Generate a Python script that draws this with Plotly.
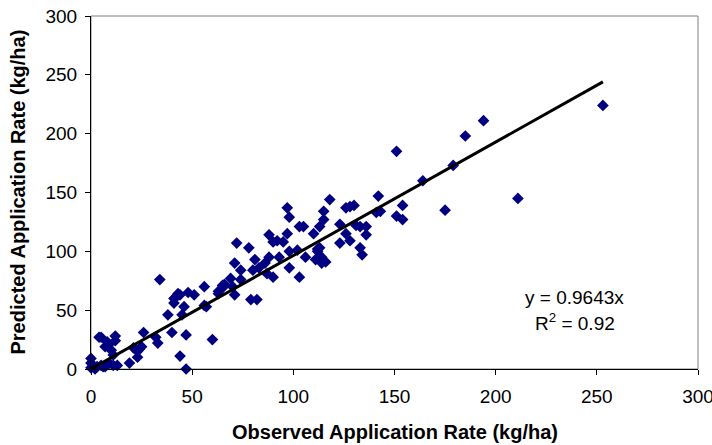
import plotly.graph_objects as go

observed = [0, 0, 1, 2, 0, 3, 6, 7, 9, 11, 13, 5, 4, 5, 8, 7, 9, 10, 11, 12, 12,
            19, 21, 23, 25, 24, 23, 26, 32, 33, 34, 38, 40, 41, 42, 43, 44, 41, 46, 45,
            47, 48, 51, 44, 47, 56, 57, 56, 60, 63, 63, 65, 66, 65, 69, 71, 70, 71, 72,
            74, 74, 78, 79, 82, 81, 80, 83, 87, 86, 88, 88, 90, 92, 90, 93, 95, 97, 97,
            98, 98, 98, 102, 103, 105, 103, 106, 110, 112, 112, 111, 113, 116, 113, 115,
            115, 114, 114, 113, 118, 123, 123, 126, 126, 128, 128, 130, 131, 133, 133, 134,
            136, 136, 141, 142, 143, 151, 151, 154, 154, 164, 175, 179, 185, 194, 211, 253]
predicted = [9, 5, 3, 0, 1, 2, 2, 2, 5, 3, 3, 3, 27, 27, 23, 19, 21, 16, 12, 28, 24,
             5, 18, 15, 19, 17, 10, 31, 27, 22, 76, 46, 31, 60, 61, 64, 63, 56, 53, 46,
             29, 65, 63, 11, 0, 70, 53, 54, 25, 64, 66, 71, 72, 69, 77, 63, 70, 90, 107,
             84, 76, 103, 59, 59, 93, 84, 86, 81, 90, 114, 95, 108, 109, 78, 95, 108, 115, 137,
             129, 100, 86, 101, 121, 121, 78, 95, 115, 102, 100, 93, 93, 91, 121, 134,
             127, 90, 95, 103, 144, 123, 107, 115, 137, 109, 138, 139, 122, 121, 103, 97,
             121, 114, 133, 147, 134, 130, 185, 139, 127, 160, 135, 173, 198, 211, 145, 224]

slope = 0.9643
r_squared = 0.92
trend_x = [0, max(observed)]
trend_y = [slope * v for v in trend_x]

x_ticks = [0, 50, 100, 150, 200, 250, 300]
y_ticks = [0, 50, 100, 150, 200, 250, 300]

FONT = "Liberation Sans, Arial, sans-serif"
FS = 19
FT = 20

fig = go.Figure()
fig.add_trace(go.Scatter(
    x=observed, y=predicted, mode="markers",
    marker=dict(symbol="diamond", size=9, color="#000080", line=dict(width=0)),
    showlegend=False, cliponaxis=False,
))
fig.add_trace(go.Scatter(
    x=trend_x, y=trend_y, mode="lines",
    line=dict(color="black", width=3), showlegend=False,
))

fig.update_layout(
    width=712, height=445,
    margin=dict(l=91, r=14, t=16, b=76),
    paper_bgcolor="white", plot_bgcolor="white",
    font=dict(family=FONT, size=FS, color="black"),
    xaxis=dict(range=[0, 300], tickvals=x_ticks, ticks="outside", ticklen=5,
               tickcolor="black", showline=True, linecolor="black", linewidth=1,
               showgrid=False, zeroline=False, ticklabelstandoff=5, automargin=False,
               ticklabeloverflow="allow", tickfont=dict(size=FS)),
    yaxis=dict(range=[0, 300], tickvals=y_ticks, ticks="outside", ticklen=5,
               tickcolor="black", showline=True, linecolor="black", linewidth=1,
               showgrid=False, zeroline=False, ticklabelstandoff=4, automargin=False,
               ticklabeloverflow="allow", tickfont=dict(size=FS)),
    shapes=[dict(type="rect", xref="paper", yref="paper", x0=0, y0=0, x1=1, y1=1,
                 line=dict(color="#808080", width=1), layer="below")],
    annotations=[
        dict(text="<b>Observed Application Rate (kg/ha)</b>", xref="paper", yref="paper",
             x=0.5, y=0, yanchor="middle", yshift=-63, showarrow=False,
             font=dict(size=FT)),
        dict(text="<b>Predicted Application Rate (kg/ha)</b>", xref="paper", yref="paper",
             x=0, y=0.5, xanchor="center", xshift=-74, textangle=-90, showarrow=False,
             font=dict(size=FT)),
        dict(text=f"y = {slope}x", xref="x", yref="y", x=239, y=61,
             showarrow=False, font=dict(size=FS)),
        dict(text=f"R<sup>2</sup> = {r_squared}", xref="x", yref="y", x=239, y=40,
             showarrow=False, font=dict(size=FS)),
    ],
)

fig.write_html("out.html")
